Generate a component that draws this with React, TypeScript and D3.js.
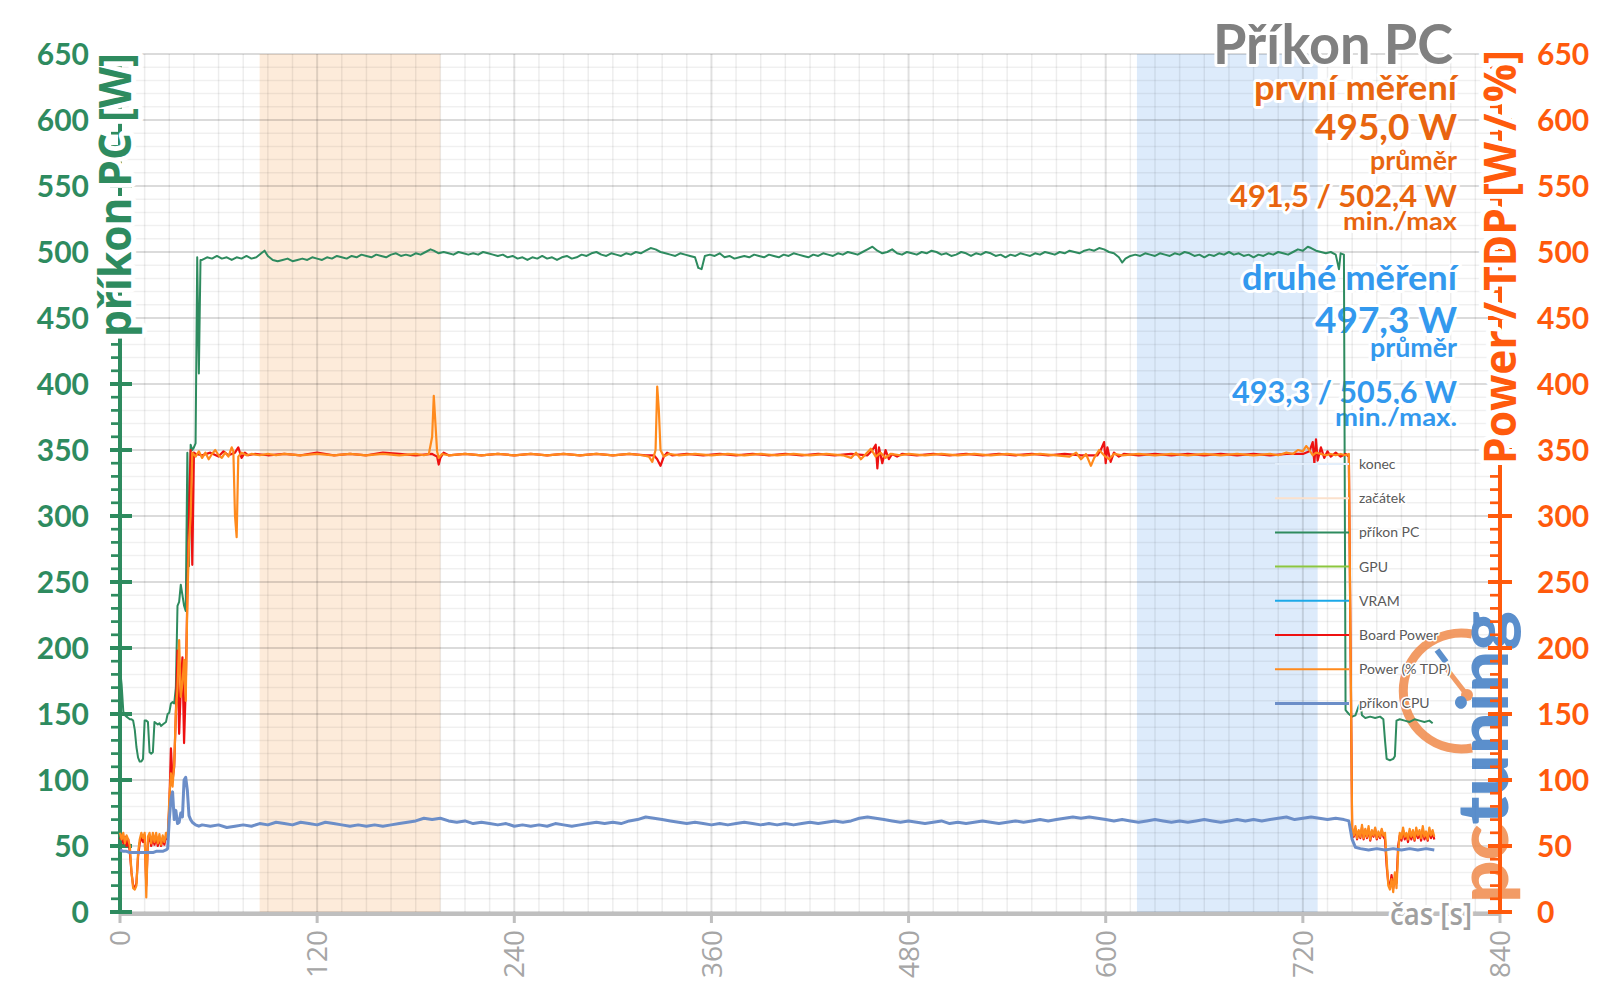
import React from "react";
import * as d3 from "d3";

// ---------- data ----------
const xTickValues = [0, 120, 240, 360, 480, 600, 720, 840];
const yTickValues = [0, 50, 100, 150, 200, 250, 300, 350, 400, 450, 500, 550, 600, 650];
const bandZacatek = [85, 195];
const bandKonec = [619, 729];

const prikonPC: [number, number][] = [
  [0,184],[1,172],[2,152],[3,149],[4,148],[5,147],[6,146],[7,146],[8,145],[9,138],[10,125],[11,117],[12,114],[13,114],[14,116],[15,145],[16,145],[17,144],[18,121],[19,120],[20,121],[21,144],[22,143],[23,142],[24,143],[25,141],[26,142],[27,143],[28,144],[29,150],[30,151],[31,158],[32,159],[33,158],[34,170],[35,232],[36,235],[37,248],[38,240],[39,232],[40,228],[41,348],[42,262],[43,354],[44,350],[45,352],[46,355],[47,496],[48,408],[49,494],
  [50,494],[53,496],[56,495],[59,497],[62,495],[65,496],[68,494],[71,496],[74,495],[77,497],[80,495],[83,496],[86,499],[88,501],[90,497],[93,494],[96,493],[99,494],[102,495],[105,493],[108,494],[111,495],[114,494],[117,496],[120,495],[123,494],[126,496],[129,495],[132,497],[135,496],[138,495],[141,497],[144,496],[147,498],[150,497],[153,496],[156,498],[159,497],[162,496],[165,498],[168,499],[171,497],[174,498],[177,497],[180,499],[183,498],[186,500],[189,502],[191,501],[194,499],[197,500],[200,499],[203,498],[206,500],[209,499],[212,498],[215,499],[218,498],[221,500],[224,499],[227,498],[230,497],[233,498],[236,496],[239,497],[242,495],[245,496],[248,494],[251,496],[254,495],[257,497],[260,495],[263,496],[266,494],[269,496],[272,497],[275,495],[278,496],[281,498],[284,497],[287,499],[290,500],[293,498],[296,497],[299,499],[302,498],[305,497],[308,499],[311,498],[314,500],[317,499],[320,501],[323,503],[326,502],[329,500],[332,499],[335,498],[338,497],[341,499],[344,498],[347,497],[350,496],[352,488],[354,487],[356,497],[359,498],[362,497],[365,499],[368,496],[371,497],[374,495],[377,496],[380,497],[383,496],[386,498],[389,497],[392,496],[395,498],[398,497],[401,496],[404,498],[407,497],[410,499],[413,498],[416,497],[419,496],[422,498],[425,497],[428,499],[431,498],[434,497],[437,499],[440,498],[443,500],[446,499],[449,498],[452,500],[455,502],[458,504],[461,501],[464,499],[467,500],[470,502],[473,499],[476,498],[479,500],[482,499],[485,498],[488,500],[491,499],[494,501],[497,500],[500,498],[503,499],[506,497],[509,498],[512,500],[515,499],[518,497],[521,499],[524,498],[527,500],[530,499],[533,497],[536,498],[539,496],[542,498],[545,497],[548,499],[551,498],[554,497],[557,499],[560,498],[563,500],[566,499],[569,498],[572,500],[575,499],[578,501],[581,500],[584,499],[587,501],[590,502],[593,501],[596,503],[599,502],[602,500],[605,499],[608,496],[610,492],[612,495],[615,497],[618,498],[621,497],[624,499],[627,498],[630,497],[633,499],[636,498],[639,497],[642,499],[645,498],[648,500],[651,499],[654,497],[657,498],[660,496],[663,498],[666,497],[669,499],[672,498],[675,500],[678,498],[681,499],[684,497],[687,498],[690,496],[693,498],[696,497],[699,499],[702,498],[705,500],[708,499],[711,498],[714,500],[717,502],[720,501],[723,504],[725,503],[728,501],[731,500],[734,499],[737,500],[740,498],[742,487],[743,499],[745,498],
  [746,153],[748,150],[750,148],[752,149],[754,156],[755,158],[756,149],[758,147],[761,148],[764,147],[767,148],[769,146],[770,130],[771,116],[773,115],[775,116],[776,118],[777,145],[779,146],[782,145],[785,144],[788,146],[791,145],[794,144],[797,145],[799,143]
];

const boardPower: [number, number][] = [
  [0,55],[1,58],[2,52],[3,57],[4,50],[5,55],[6,45],[7,30],[8,20],[9,18],[10,22],[11,42],[12,52],[13,57],[14,53],[15,58],[16,20],[17,53],[18,57],[19,50],[20,56],[21,51],[22,57],[23,50],[24,56],[25,50],[26,55],[27,51],[28,57],[29,55],[30,80],[31,124],[32,100],[33,110],[34,150],[35,198],[36,135],[37,170],[38,193],[39,128],[40,170],[41,240],[42,300],[43,350],[44,263],[45,348],
  [46,347],[50,346],[55,348],[60,345],[63,349],[66,346],[70,348],[72,352],[74,344],[76,348],[78,346],[82,347],[90,346],[100,347],[110,346],[120,348],[130,346],[140,347],[150,346],[160,348],[170,347],[180,346],[190,347],[193,345],[194,339],[195,344],[197,348],[200,346],[210,347],[220,346],[230,347],[240,346],[250,347],[260,346],[270,347],[280,346],[290,347],[300,346],[310,347],[320,346],[325,346],[327,343],[329,338],[331,345],[333,348],[336,346],[345,347],[355,346],[365,347],[375,346],[385,347],[395,346],[405,347],[415,346],[425,347],[435,346],[445,347],[455,346],[458,350],[460,354],[461,336],[462,352],[464,340],[466,350],[468,343],[470,347],[473,345],[476,347],[485,346],[495,347],[505,346],[515,347],[525,346],[535,347],[545,346],[555,347],[565,346],[575,347],[585,346],[595,346],[597,350],[599,356],[600,340],[601,352],[603,341],[605,348],[608,345],[611,347],[620,346],[630,347],[640,346],[650,347],[660,346],[670,347],[680,346],[690,347],[700,346],[710,347],[720,347],[724,349],[726,356],[727,340],[728,358],[729,342],[731,352],[733,344],[735,349],[737,345],[740,348],[743,345],[746,347],[748,345],
  [750,62],[751,57],[752,63],[753,55],[754,61],[755,56],[756,64],[757,55],[758,62],[759,56],[760,63],[761,54],[762,61],[763,57],[764,63],[765,55],[766,60],[767,56],[768,62],[769,57],[770,55],[771,35],[772,22],[773,20],[774,28],[775,18],[776,26],[777,22],[778,50],[779,58],[780,54],[781,62],[782,55],[783,59],[784,53],[785,61],[786,55],[787,60],[788,54],[789,62],[790,56],[791,60],[792,54],[793,63],[794,55],[795,59],[796,54],[797,62],[798,56],[799,60],[800,55]
];

const powerTDP: [number, number][] = [
  [0,60],[1,55],[2,60],[3,52],[4,58],[5,55],[6,50],[7,30],[8,18],[9,17],[10,20],[11,45],[12,55],[13,60],[14,56],[15,60],[16,11],[17,57],[18,60],[19,52],[20,60],[21,53],[22,60],[23,52],[24,59],[25,51],[26,58],[27,53],[28,60],[29,56],[30,85],[31,105],[32,95],[33,113],[34,151],[35,170],[36,206],[37,163],[38,173],[39,191],[40,160],[41,236],[42,280],[43,300],[44,348],
  [46,345],[48,349],[50,344],[52,348],[54,343],[56,347],[58,350],[60,346],[62,344],[64,348],[66,345],[68,352],[69,349],[70,300],[71,284],[72,345],[74,348],[77,346],[80,347],[85,346],[90,347],[95,346],[100,347],[110,346],[120,347],[130,346],[140,347],[150,346],[160,347],[170,346],[180,347],[185,346],[188,347],[190,360],[191,391],[192,370],[193,349],[194,344],[196,347],[200,346],[210,347],[220,346],[230,347],[240,346],[250,347],[260,346],[270,347],[280,346],[290,347],[300,346],[310,347],[318,346],[322,345],[324,341],[326,350],[327,398],[328,380],[329,350],[331,345],[334,347],[340,346],[350,347],[360,346],[370,347],[380,346],[390,347],[400,346],[410,347],[420,346],[430,347],[440,346],[445,344],[448,348],[451,343],[454,347],[457,351],[460,345],[463,348],[466,344],[469,347],[475,346],[480,347],[490,346],[500,347],[510,346],[520,347],[530,346],[540,347],[550,346],[560,347],[570,346],[578,345],[582,348],[585,343],[588,347],[591,338],[593,344],[596,350],[599,346],[602,343],[605,347],[610,346],[620,347],[630,346],[640,347],[650,346],[660,347],[670,346],[680,347],[690,346],[700,347],[705,346],[710,348],[714,347],[717,350],[720,349],[722,353],[724,350],[726,346],[728,348],[731,347],[734,346],[737,347],[740,346],[743,347],[746,346],[748,347],
  [750,64],[751,58],[752,65],[753,56],[754,62],[755,57],[756,66],[757,56],[758,63],[759,57],[760,65],[761,55],[762,62],[763,58],[764,64],[765,56],[766,61],[767,57],[768,63],[769,58],[770,60],[771,40],[772,20],[773,17],[774,25],[775,15],[776,30],[777,18],[778,45],[779,60],[780,56],[781,64],[782,57],[783,60],[784,55],[785,63],[786,57],[787,62],[788,55],[789,64],[790,58],[791,62],[792,56],[793,65],[794,57],[795,61],[796,55],[797,64],[798,58],[799,62],[800,57]
];

const prikonCPU: [number, number][] = [
  [0,47],[2,46],[4,46],[6,45],[8,45],[10,45],[12,45],[14,45],[16,45],[18,45],[20,45],[22,46],[24,46],[26,46],[28,47],[29,48],[30,70],[31,85],[32,91],[33,70],[34,77],[35,67],[36,68],[37,75],[38,72],[39,100],[40,102],[41,92],[42,73],[43,70],[44,68],[46,66],[48,65],
  [50,66],[55,65],[60,66],[65,64],[70,65],[75,66],[80,65],[85,67],[90,66],[95,68],[100,67],[105,66],[110,68],[115,67],[120,66],[125,68],[130,67],[135,66],[140,65],[145,66],[150,65],[155,66],[160,65],[165,66],[170,67],[175,68],[180,69],[185,71],[190,70],[195,71],[200,69],[205,68],[210,69],[215,67],[220,68],[225,67],[230,66],[235,67],[240,65],[245,66],[250,65],[255,66],[260,65],[265,67],[270,66],[275,65],[280,66],[285,67],[290,68],[295,67],[300,68],[305,67],[310,69],[315,70],[320,72],[325,71],[330,70],[335,69],[340,68],[345,67],[350,68],[355,67],[360,66],[365,67],[370,66],[375,67],[380,68],[385,67],[390,66],[395,67],[400,66],[405,67],[410,66],[415,67],[420,68],[425,67],[430,68],[435,69],[440,68],[445,69],[450,71],[455,72],[460,71],[465,70],[470,69],[475,68],[480,69],[485,68],[490,67],[495,68],[500,69],[505,67],[510,68],[515,67],[520,68],[525,69],[530,68],[535,67],[540,68],[545,69],[550,68],[555,69],[560,70],[565,69],[570,70],[575,71],[580,72],[585,71],[590,72],[595,71],[600,70],[605,69],[610,70],[615,69],[620,68],[625,69],[630,70],[635,69],[640,68],[645,69],[650,68],[655,69],[660,70],[665,69],[670,68],[675,69],[680,70],[685,69],[690,70],[695,69],[700,70],[705,71],[710,72],[715,70],[720,71],[725,72],[730,71],[735,70],[740,71],[745,70],[748,69],
  [750,55],[752,49],[755,48],[760,47],[765,48],[770,47],[775,48],[780,47],[785,48],[790,47],[795,48],[800,47]
];

const legendLabels = ["konec", "začátek", "příkon PC", "GPU", "VRAM", "Board Power", "Power (% TDP)", "příkon CPU"];
const legendColors = ["#E3EEFA", "#FBE1CC", "#2E8B5F", "#8CC63F", "#1CA9E8", "#EE1111", "#FF8A1C", "#6C8EC8"];
const legendWidths = [2, 2, 2, 2, 2, 2, 2, 3];

const annotFirst = ["první měření", "495,0 W", "průměr", "491,5 / 502,4 W", "min./max"];
const annotSecond = ["druhé měření", "497,3 W", "průměr", "493,3 / 505,6 W", "min./max."];

// ---------- styles ----------
const C_GREEN = "#2E8B5F";
const C_ORANGE_AX = "#FF5A0C";
const C_ANN_OR = "#E8650F";
const C_ANN_BL = "#3399EE";
const LATO = "Lato, 'Open Sans', sans-serif";
const OPEN = "'Open Sans', Lato, sans-serif";

const haloStyle = (w: number) => ({ stroke: "white", strokeWidth: w, strokeLinejoin: "round" as const, style: { paintOrder: "stroke" } as React.CSSProperties });

export default function App() {
  const x = d3.scaleLinear().domain([0, 840]).range([120, 1500]);
  const y = d3.scaleLinear().domain([0, 650]).range([912, 54]);
  const line = d3.line<[number, number]>().x(d => x(d[0])).y(d => y(d[1]));

  const minorH = d3.range(0, 651, 10).filter(v => v % 50 !== 0);
  const minorV = d3.range(0, 841, 15).filter(v => v % 120 !== 0);
  const minorTicks = d3.range(0, 651, 10).filter(v => v % 50 !== 0);

  // annotation layout: [baseline, fontSize, textLength]
  const annLayout1: [number, number, number][] = [[100, 35, 203], [140, 37, 142], [170, 26, 87], [207, 30, 227], [230, 25, 114]];
  const annLayout2: [number, number, number][] = [[290, 35, 215], [333, 37, 142], [357, 26, 87], [403, 30, 225], [426, 25, 122]];

  return (
    <svg width={1600} height={1008} style={{ position: "absolute", left: 0, top: 0, background: "white" }}>
      <rect x={0} y={0} width={1600} height={1008} fill="white" />
      {/* bands */}
      <rect x={x(bandZacatek[0])} y={y(650)} width={x(bandZacatek[1]) - x(bandZacatek[0])} height={y(0) - y(650)} fill="#FDEBDA" />
      <rect x={x(bandKonec[0])} y={y(650)} width={x(bandKonec[1]) - x(bandKonec[0])} height={y(0) - y(650)} fill="#DDEBFB" />
      {/* grid */}
      {minorH.map(v => <line key={"mh" + v} x1={x(0)} x2={x(840)} y1={y(v)} y2={y(v)} stroke="rgba(0,0,0,0.06)" strokeWidth={1.5} />)}
      {minorV.map(v => <line key={"mv" + v} x1={x(v)} x2={x(v)} y1={y(0)} y2={y(650)} stroke="rgba(0,0,0,0.07)" strokeWidth={1.5} />)}
      {yTickValues.map(v => <line key={"gh" + v} x1={x(0)} x2={x(840)} y1={y(v)} y2={y(v)} stroke="rgba(0,0,0,0.14)" strokeWidth={2} />)}
      {xTickValues.map(v => <line key={"gv" + v} x1={x(v)} x2={x(v)} y1={y(0)} y2={y(650)} stroke="rgba(0,0,0,0.12)" strokeWidth={2} />)}

      {/* logo */}
      <g opacity={0.85}>
        <path d="M1472,634 A58,58 0 1 0 1472,748" fill="none" stroke="#F08A4B" strokeWidth={9} />
        <line x1={1446} y1={668} x2={1467} y2={695} stroke="#F08A4B" strokeWidth={5} strokeLinecap="round" />
        <circle cx={1467} cy={695} r={6} fill="#F08A4B" />
        <line x1={1437} y1={650} x2={1446} y2={662} stroke="#3F7CC4" strokeWidth={6} />
        <text transform="translate(1508,903) rotate(-90)" fontFamily={LATO} fontWeight={900} fontSize={70} textLength={292} lengthAdjust="spacingAndGlyphs">
          <tspan fill="#F08A4B">pc</tspan><tspan fill="#3F7CC4">tuning</tspan>
        </text>
      </g>

      {/* x axis */}
      <line x1={x(0)} x2={x(840)} y1={914} y2={914} stroke="#BFBFBF" strokeWidth={4} />
      {xTickValues.map(v => <line key={"xt" + v} x1={x(v)} x2={x(v)} y1={912} y2={923} stroke="#BFBFBF" strokeWidth={3} />)}
      {xTickValues.map(v => (
        <text key={"xl" + v} transform={`translate(${x(v)},930) rotate(-90)`} textAnchor="end" dy="0.36em" fontFamily={OPEN} fontSize={28} fill="#A6A6A6">{v}</text>
      ))}

      {/* left axis */}
      <line x1={120} x2={120} y1={y(650)} y2={y(0)} stroke={C_GREEN} strokeWidth={4} />
      {minorTicks.map(v => <line key={"lmt" + v} x1={111} x2={121} y1={y(v)} y2={y(v)} stroke={C_GREEN} strokeWidth={2.7} />)}
      {yTickValues.map(v => <line key={"lt" + v} x1={110} x2={132} y1={y(v)} y2={y(v)} stroke={C_GREEN} strokeWidth={4} />)}
      {yTickValues.map(v => (
        <text key={"ll" + v} x={89} y={y(v)} dy="0.36em" textAnchor="end" fontFamily={LATO} fontWeight={700} fontSize={30} fill={C_GREEN}>{v}</text>
      ))}

      {/* right axis */}
      <line x1={1500} x2={1500} y1={y(650)} y2={y(0)} stroke={C_ORANGE_AX} strokeWidth={4} />
      {minorTicks.map(v => <line key={"rmt" + v} x1={1490} x2={1501} y1={y(v)} y2={y(v)} stroke={C_ORANGE_AX} strokeWidth={2.7} />)}
      {yTickValues.map(v => <line key={"rt" + v} x1={1488} x2={1512} y1={y(v)} y2={y(v)} stroke={C_ORANGE_AX} strokeWidth={4} />)}
      {yTickValues.map(v => (
        <text key={"rl" + v} x={1537} y={y(v)} dy="0.36em" textAnchor="start" fontFamily={LATO} fontWeight={700} fontSize={30} fill={C_ORANGE_AX}>{v}</text>
      ))}

      {/* axis titles */}
      <text transform="translate(131,53) rotate(-90)" textAnchor="end" fontFamily={OPEN} fontWeight={700} fontSize={44} textLength={284} lengthAdjust="spacingAndGlyphs" fill={C_GREEN} {...haloStyle(10)}>příkon PC [W]</text>
      <text transform="translate(1516,50) rotate(-90)" textAnchor="end" fontFamily={OPEN} fontWeight={700} fontSize={44} textLength={414} lengthAdjust="spacingAndGlyphs" fill={C_ORANGE_AX} {...haloStyle(10)}>Power / TDP [W / %]</text>
      <text x={1472} y={925} textAnchor="end" fontFamily={OPEN} fontWeight={600} fontSize={30} textLength={82} lengthAdjust="spacingAndGlyphs" fill="#A0A0A0" {...haloStyle(6)}>čas [s]</text>

      {/* title + annotations */}
      <text x={1453} y={64} textAnchor="end" fontFamily={LATO} fontWeight={700} fontSize={56} textLength={240} lengthAdjust="spacingAndGlyphs" fill="#808080" {...haloStyle(6)}>Příkon PC</text>
      {annotFirst.map((t, i) => (
        <text key={"a1" + i} x={1457} y={annLayout1[i][0]} textAnchor="end" fontFamily={LATO} fontWeight={700} fontSize={annLayout1[i][1]} textLength={annLayout1[i][2]} lengthAdjust="spacingAndGlyphs" fill={C_ANN_OR} {...haloStyle(6)}>{t}</text>
      ))}
      {annotSecond.map((t, i) => (
        <text key={"a2" + i} x={1457} y={annLayout2[i][0]} textAnchor="end" fontFamily={LATO} fontWeight={700} fontSize={annLayout2[i][1]} textLength={annLayout2[i][2]} lengthAdjust="spacingAndGlyphs" fill={C_ANN_BL} {...haloStyle(6)}>{t}</text>
      ))}

      {/* data lines */}
      <path d={line(prikonPC) || ""} fill="none" stroke={legendColors[2]} strokeWidth={2} strokeLinejoin="round" />
      <path d={line(boardPower) || ""} fill="none" stroke={legendColors[5]} strokeWidth={2.2} strokeLinejoin="round" />
      <path d={line(powerTDP) || ""} fill="none" stroke={legendColors[6]} strokeWidth={2.2} strokeLinejoin="round" />
      <path d={line(prikonCPU) || ""} fill="none" stroke={legendColors[7]} strokeWidth={3} strokeLinejoin="round" />

      {/* legend */}
      {legendLabels.map((lab, i) => {
        const yy = 464 + i * 34.2;
        return (
          <g key={"lg" + i}>
            <line x1={1275} x2={1349} y1={yy} y2={yy} stroke={legendColors[i]} strokeWidth={legendWidths[i]} />
            <text x={1359} y={yy} dy="0.36em" fontFamily={LATO} fontSize={14} fill="#595959" {...haloStyle(3)}>{lab}</text>
          </g>
        );
      })}
    </svg>
  );
}
